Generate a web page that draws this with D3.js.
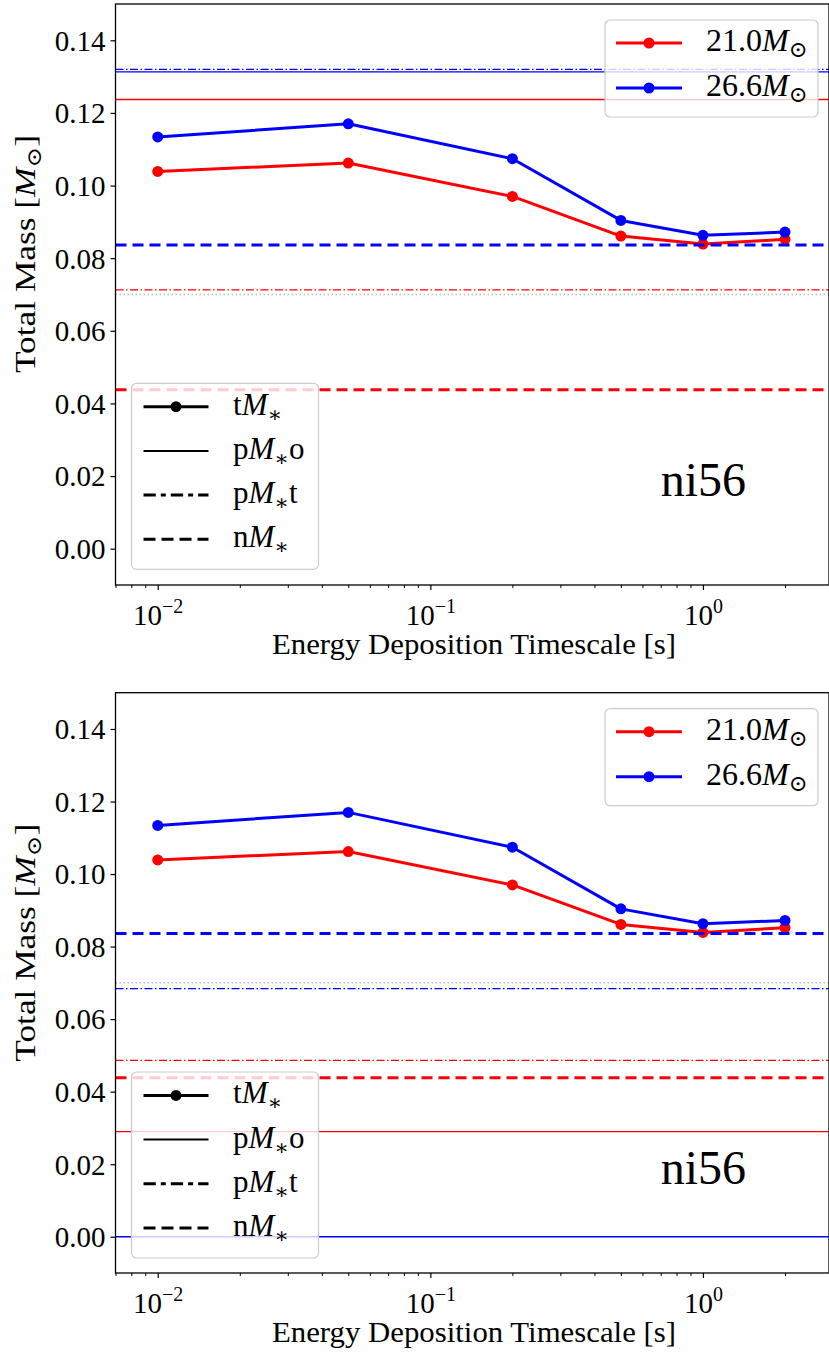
<!DOCTYPE html>
<html>
<head>
<meta charset="utf-8">
<script src="https://cdn.jsdelivr.net/npm/d3@7"></script>
<style>
  body { margin: 0; background: #fff; }
  svg, svg text { font-family: "Liberation Serif", "DejaVu Serif", serif !important; fill: #000; }
</style>
</head>
<body>
<div id="chart"></div>
<script>
// energy deposition timescales [s]
const timescales = [0.01, 0.05, 0.2, 0.5, 1, 2];

// total mass tM* for both progenitors (same in both panels)
const tM_21 = [0.1039, 0.1062, 0.0970, 0.0861, 0.0839, 0.0852];
const tM_26 = [0.1134, 0.1170, 0.1074, 0.0904, 0.0863, 0.0872];

// reference levels, order: pM*o, pM*t, nM*
const refKinds = ["pMo", "pMt", "nM"];
const ref21_top = [0.1237, 0.0713, 0.0438];
const ref26_top = [0.1313, 0.1320, 0.0836];
const ref21_bottom = [0.0290, 0.0486, 0.0438];
const ref26_bottom = [0.0000, 0.0684, 0.0836];
const grayLevel = 0.070;

const yTicks = [0.00, 0.02, 0.04, 0.06, 0.08, 0.10, 0.12, 0.14];
const xMajor = [0.01, 0.1, 1];
const seriesNames = ["21.0", "26.6"];
const seriesColors = ["#ff0000", "#0000ff"];
const styleNames = ["t", "p|o", "p|t", "n|"];

const FONT = "Liberation Serif, DejaVu Serif, serif";
const W = 829, H = 1353;
const svg = d3.select("#chart").append("svg")
    .attr("width", W).attr("height", H)
    .attr("font-family", FONT);

const left = 115.5, right = 829;
const x = d3.scaleLog().domain([0.007, 2.9]).range([left, right]);

const dashes = { pMo: null, pMt: "8,2.5,1.5,2.5", nM: "11,6" };
const widths = { pMo: 1.3, pMt: 1.3, nM: 3 };

function massLabel(t, name) {
    // name + M_sun
    t.append("tspan").text(name);
    t.append("tspan").attr("font-style", "italic").text("M");
    t.append("tspan").attr("font-size", "0.7em").attr("dy", 6).text("⊙");
}

function starLabel(t, code) {
    const [pre, post] = code.split("|");
    t.append("tspan").text(code.includes("|") ? pre : code);
    t.append("tspan").attr("font-style", "italic").text("M");
    t.append("tspan").attr("font-size", "0.7em").attr("dy", 7).text("∗");
    if (post) t.append("tspan").attr("dy", -7).text(post);
}

function drawPanel(id, top, bottom, ref21, ref26) {
    const y = d3.scaleLinear().domain([-0.01, 0.15]).range([bottom, top]);
    const g = svg.append("g");

    g.append("clipPath").attr("id", "clip" + id)
        .append("rect")
        .attr("x", left).attr("y", top)
        .attr("width", right - left).attr("height", bottom - top);

    const plot = g.append("g").attr("clip-path", `url(#clip${id})`);

    // data lines
    [tM_21, tM_26].forEach((vals, i) => {
        const pts = timescales.map((t, k) => [t, vals[k]]);
        plot.append("path")
            .datum(pts)
            .attr("fill", "none")
            .attr("stroke", seriesColors[i])
            .attr("stroke-width", 3)
            .attr("stroke-linejoin", "round")
            .attr("d", d3.line().x(d => x(d[0])).y(d => y(d[1])));
        plot.selectAll(null)
            .data(pts)
            .join("circle")
            .attr("cx", d => x(d[0]))
            .attr("cy", d => y(d[1]))
            .attr("r", 5.5)
            .attr("fill", seriesColors[i]);
    });

    // gray reference
    plot.append("line")
        .attr("x1", left).attr("x2", right)
        .attr("y1", y(grayLevel)).attr("y2", y(grayLevel))
        .attr("stroke", "#bdbdbd").attr("stroke-width", 1.5)
        .attr("stroke-dasharray", "1.5,2.5");

    // horizontal reference levels
    [ref21, ref26].forEach((vals, i) => {
        vals.forEach((v, k) => {
            const kind = refKinds[k];
            plot.append("line")
                .attr("x1", left).attr("x2", right)
                .attr("y1", y(v)).attr("y2", y(v))
                .attr("stroke", seriesColors[i])
                .attr("stroke-width", widths[kind])
                .attr("stroke-dasharray", dashes[kind]);
        });
    });

    // axes
    const gy = g.append("g")
        .attr("transform", `translate(${left},0)`)
        .call(d3.axisLeft(y).tickValues(yTicks).tickFormat(d3.format(".2f"))
            .tickSize(5).tickPadding(5));
    gy.attr("font-family", FONT);
    gy.select(".domain").remove();
    gy.selectAll(".tick line").attr("stroke", "#000").attr("stroke-width", 1.2);
    gy.selectAll(".tick text").attr("font-size", 29).attr("dy", "0.34em");

    const minor = x.ticks().filter(d => !xMajor.some(m => Math.abs(m - d) < 1e-9));
    const gxm = g.append("g")
        .attr("transform", `translate(0,${bottom})`)
        .call(d3.axisBottom(x).tickValues(minor).tickFormat("").tickSize(3));
    gxm.select(".domain").remove();
    gxm.selectAll(".tick line").attr("stroke", "#000").attr("stroke-width", 1);

    const gx = g.append("g")
        .attr("transform", `translate(0,${bottom})`)
        .call(d3.axisBottom(x).tickValues(xMajor).tickFormat(() => "").tickSize(5).tickPadding(6));
    gx.attr("font-family", FONT);
    gx.select(".domain").remove();
    gx.selectAll(".tick line").attr("stroke", "#000").attr("stroke-width", 1.2);
    gx.selectAll(".tick text")
        .attr("font-size", 29)
        .attr("dy", "1.0em")
        .each(function (d) {
            const t = d3.select(this);
            const e = Math.round(Math.log10(d));
            t.append("tspan").text("10");
            t.append("tspan").attr("font-size", 20).attr("dy", -12)
                .text(e < 0 ? "−" + (-e) : String(e));
        });

    // frame
    g.append("rect")
        .attr("x", left).attr("y", top)
        .attr("width", right - left).attr("height", bottom - top)
        .attr("fill", "none").attr("stroke", "#000").attr("stroke-width", 1.3);

    // axis labels
    g.append("text")
        .attr("x", 474)
        .attr("y", bottom + 69)
        .attr("text-anchor", "middle")
        .attr("font-size", 29)
        .attr("textLength", 404)
        .attr("lengthAdjust", "spacingAndGlyphs")
        .text("Energy Deposition Timescale [s]");

    const yl = g.append("text")
        .attr("transform", `translate(35,${top + 250}) rotate(-90)`)
        .attr("text-anchor", "middle")
        .attr("font-size", 29)
        .attr("textLength", 238)
        .attr("lengthAdjust", "spacingAndGlyphs");
    yl.append("tspan").text("Total Mass [");
    yl.append("tspan").attr("font-style", "italic").text("M");
    yl.append("tspan").attr("font-size", "0.7em").attr("dy", 6).text("⊙");
    yl.append("tspan").attr("dy", -6).text("]");

    // isotope label
    g.append("text")
        .attr("x", x(0.7)).attr("y", y(0.0145))
        .attr("font-size", 48)
        .text("ni56");

    // series legend (top right)
    const l1 = g.append("g").attr("transform", `translate(605,${top + 16})`);
    l1.append("rect")
        .attr("width", 213).attr("height", 97).attr("rx", 5)
        .attr("fill", "#fff").attr("fill-opacity", 0.8)
        .attr("stroke", "#cccccc").attr("stroke-width", 1.2);
    seriesNames.forEach((name, i) => {
        const ry = 23 + i * 45;
        l1.append("line")
            .attr("x1", 11).attr("x2", 77).attr("y1", ry).attr("y2", ry)
            .attr("stroke", seriesColors[i]).attr("stroke-width", 3);
        l1.append("circle").attr("cx", 44).attr("cy", ry).attr("r", 5.5)
            .attr("fill", seriesColors[i]);
        const t = l1.append("text").attr("x", 101).attr("y", ry + 8)
            .attr("font-size", 32);
        massLabel(t, name);
    });

    // line style legend (lower left)
    const l2 = g.append("g").attr("transform", `translate(131.5,${top + 379.3})`);
    l2.append("rect")
        .attr("width", 187).attr("height", 186).attr("rx", 5)
        .attr("fill", "#fff").attr("fill-opacity", 0.8)
        .attr("stroke", "#cccccc").attr("stroke-width", 1.2);
    const legendDash = [null, null, "12.3,5,5,5", "12,6"];
    const legendWidth = [3, 2, 3, 3];
    styleNames.forEach((code, i) => {
        const ry = 23.4 + i * 44.2;
        l2.append("line")
            .attr("x1", 12).attr("x2", 77).attr("y1", ry).attr("y2", ry)
            .attr("stroke", "#000").attr("stroke-width", legendWidth[i])
            .attr("stroke-dasharray", legendDash[i]);
        if (i === 0) {
            l2.append("circle").attr("cx", 44.5).attr("cy", ry).attr("r", 5.5).attr("fill", "#000");
        }
        const t = l2.append("text").attr("x", 101.5).attr("y", ry + 8)
            .attr("font-size", 31);
        starLabel(t, code);
    });
}

drawPanel("a", 4, 585, ref21_top, ref26_top);
drawPanel("b", 692.7, 1273, ref21_bottom, ref26_bottom);
</script>
</body>
</html>
